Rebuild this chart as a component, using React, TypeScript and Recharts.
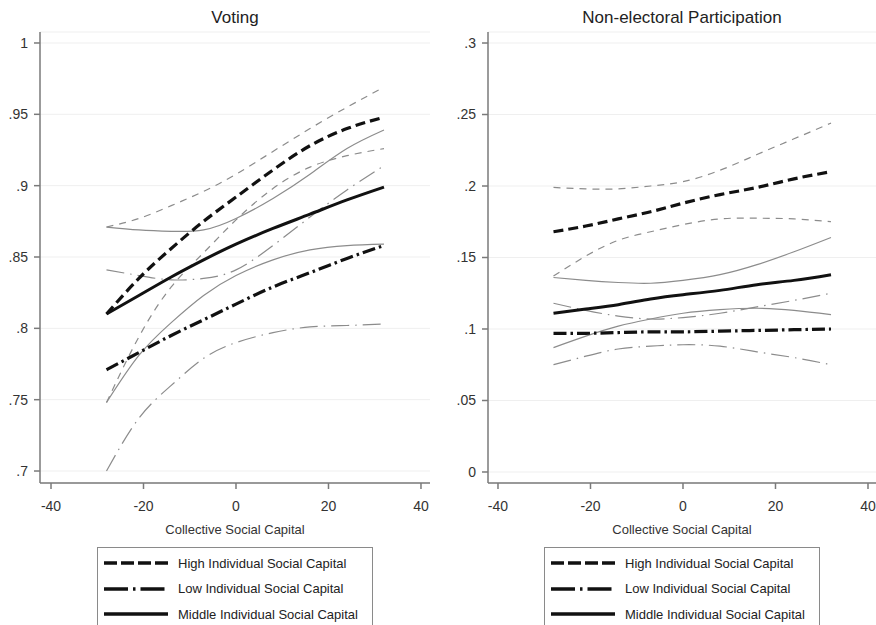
import { CartesianGrid, Line, LineChart, XAxis, YAxis } from "recharts";

// collective social capital (x positions of the fitted curves)
const capital = [-28, -21, -14, -7, 0, 8, 16, 24, 32];
const xTicks = [-40, -20, 0, 20, 40];

// Voting panel
const voteHigh = [0.81, 0.835, 0.856, 0.875, 0.892, 0.911, 0.928, 0.94, 0.948];
const voteHighUp = [0.871, 0.877, 0.886, 0.896, 0.908, 0.924, 0.94, 0.955, 0.969];
const voteHighLo = [0.748, 0.794, 0.829, 0.853, 0.876, 0.898, 0.913, 0.921, 0.926];
const voteMid = [0.81, 0.823, 0.836, 0.848, 0.859, 0.87, 0.88, 0.89, 0.899];
const voteMidUp = [0.871, 0.869, 0.868, 0.869, 0.877, 0.891, 0.908, 0.926, 0.939];
const voteMidLo = [0.748, 0.781, 0.804, 0.823, 0.837, 0.848, 0.855, 0.858, 0.859];
const voteLow = [0.771, 0.783, 0.795, 0.806, 0.817, 0.829, 0.839, 0.849, 0.858];
const voteLowUp = [0.841, 0.837, 0.834, 0.835, 0.841, 0.858, 0.878, 0.897, 0.914];
const voteLowLo = [0.7, 0.737, 0.76, 0.779, 0.79, 0.797, 0.801, 0.802, 0.803];
const voteTicks = [0.7, 0.75, 0.8, 0.85, 0.9, 0.95, 1];

// Non-electoral participation panel
const partHigh = [0.168, 0.172, 0.177, 0.182, 0.188, 0.194, 0.199, 0.205, 0.21];
const partHighUp = [0.199, 0.198, 0.198, 0.2, 0.203, 0.211, 0.222, 0.233, 0.244];
const partHighLo = [0.137, 0.151, 0.162, 0.168, 0.173, 0.177, 0.1775, 0.177, 0.175];
const partMid = [0.111, 0.114, 0.117, 0.121, 0.124, 0.127, 0.131, 0.134, 0.138];
const partMidUp = [0.136, 0.134, 0.1325, 0.132, 0.134, 0.138, 0.145, 0.154, 0.164];
const partMidLo = [0.087, 0.095, 0.102, 0.107, 0.111, 0.1135, 0.1145, 0.113, 0.11];
const partLow = [0.097, 0.097, 0.0975, 0.098, 0.098, 0.0985, 0.099, 0.0995, 0.1];
const partLowUp = [0.118, 0.113, 0.109, 0.107, 0.108, 0.111, 0.1155, 0.12, 0.125];
const partLowLo = [0.075, 0.081, 0.086, 0.088, 0.089, 0.088, 0.084, 0.08, 0.075];
const partTicks = [0, 0.05, 0.1, 0.15, 0.2, 0.25, 0.3];

const legendNames = [
  "High Individual Social Capital",
  "Low Individual Social Capital",
  "Middle Individual Social Capital",
];

const FONT = '"Liberation Sans", Arial, Helvetica, sans-serif';
const AXIS = "#7a7a7a";
const THIN = "#8c8c8c";

// line styles: [key, stroke, width, dash]
const styles: [string, string, number, string | undefined][] = [
  ["highUp", THIN, 1.2, "7 6"],
  ["highLo", THIN, 1.2, "7 6"],
  ["midUp", THIN, 1.2, undefined],
  ["midLo", THIN, 1.2, undefined],
  ["lowUp", THIN, 1.2, "18 6 1.5 6"],
  ["lowLo", THIN, 1.2, "18 6 1.5 6"],
  ["high", "#111", 3.2, "10 5"],
  ["mid", "#111", 3, undefined],
  ["low", "#111", 3.2, "13 4 2.5 4"],
];

function rows(s: Record<string, number[]>) {
  return capital.map((x, i) => {
    const r: Record<string, number> = { x };
    Object.keys(s).forEach((k) => (r[k] = s[k][i]));
    return r;
  });
}

const voteData = rows({
  high: voteHigh, highUp: voteHighUp, highLo: voteHighLo,
  mid: voteMid, midUp: voteMidUp, midLo: voteMidLo,
  low: voteLow, lowUp: voteLowUp, lowLo: voteLowLo,
});
const partData = rows({
  high: partHigh, highUp: partHighUp, highLo: partHighLo,
  mid: partMid, midUp: partMidUp, midLo: partMidLo,
  low: partLow, lowUp: partLowUp, lowLo: partLowLo,
});

const fmt = (v: number) => String(Math.round(v * 1000) / 1000).replace(/^0\./, ".");

type PanelProps = {
  left: number;
  width: number;
  title: string;
  data: Record<string, number>[];
  xDomain: [number, number];
  yDomain: [number, number];
  yTicks: number[];
};

function Panel({ left, width, title, data, xDomain, yDomain, yTicks }: PanelProps) {
  const plotW = width - 40;
  return (
    <div style={{ position: "absolute", left, top: 0, width, height: 625 }}>
      <div style={{ position: "absolute", left: 40, width: plotW, top: 8, textAlign: "center", fontSize: 17, color: "#222" }}>
        {title}
      </div>
      <LineChart width={width} height={545} data={data} margin={{ top: 32, right: 0, bottom: 0, left: 0 }}>
        <CartesianGrid vertical={false} stroke="#efefef" />
        <XAxis
          dataKey="x"
          type="number"
          domain={xDomain}
          allowDataOverflow
          ticks={xTicks}
          tickSize={6}
          tickMargin={12}
          height={62}
          stroke={AXIS}
          strokeWidth={1.5}
          tick={{ fill: "#333", fontSize: 14, fontFamily: FONT }}
          label={{ value: "Collective Social Capital", position: "insideBottom", offset: 11, fill: "#333", fontSize: 13, fontFamily: FONT }}
        />
        <YAxis
          type="number"
          domain={yDomain}
          allowDataOverflow
          ticks={yTicks}
          tickFormatter={fmt}
          width={40}
          tickSize={6}
          tickMargin={6}
          stroke={AXIS}
          strokeWidth={1.5}
          tick={{ fill: "#333", fontSize: 14, fontFamily: FONT }}
        />
        {styles.map(([k, c, w, d]) => (
          <Line
            key={k}
            dataKey={k}
            type="natural"
            stroke={c}
            strokeWidth={w}
            strokeDasharray={d}
            dot={false}
            activeDot={false}
            isAnimationActive={false}
          />
        ))}
      </LineChart>
      <Legend boxLeft={left === 0 ? 97 : 96} />
    </div>
  );
}

const legendDash = ["13 4", "24 5 2.5 5", undefined];

function Legend({ boxLeft }: { boxLeft: number }) {
  return (
    <div
      style={{
        position: "absolute",
        left: boxLeft,
        top: 547,
        width: 276,
        height: 100,
        border: "1px solid #8a8a8a",
        boxSizing: "border-box",
      }}
    >
      {legendNames.map((name, i) => (
        <div key={name} style={{ position: "absolute", left: 0, top: 6 + i * 25.5, height: 18, display: "flex", alignItems: "center" }}>
          <svg width={80} height={18} style={{ display: "block" }}>
            <line x1={6} x2={70} y1={9} y2={9} stroke="#111" strokeWidth={3.5} strokeDasharray={legendDash[i]} />
          </svg>
          <span style={{ fontSize: 13, color: "#222", whiteSpace: "nowrap" }}>{name}</span>
        </div>
      ))}
    </div>
  );
}

export default function App() {
  return (
    <div style={{ position: "absolute", left: 0, top: 0, width: 876, height: 625, background: "#fff", overflow: "hidden", fontFamily: FONT }}>
      <Panel left={0} width={430} title="Voting" data={voteData} xDomain={[-42.38, 41.95]} yDomain={[0.6916, 1.0077]} yTicks={voteTicks} />
      <Panel left={448} width={428} title="Non-electoral Participation" data={partData} xDomain={[-42.16, 41.73]} yDomain={[-0.0077, 0.3077]} yTicks={partTicks} />
    </div>
  );
}
